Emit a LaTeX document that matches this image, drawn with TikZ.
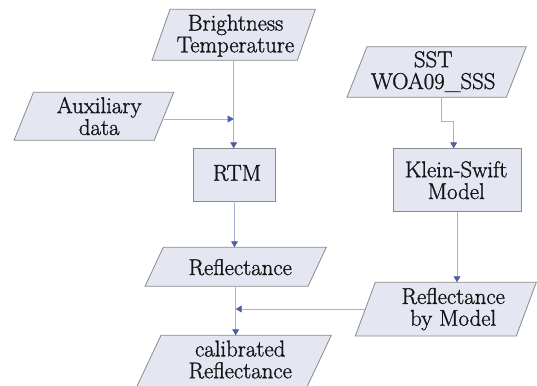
\documentclass[tikz,border=0pt]{standalone}
\usepackage{fontspec}
\newfontfamily\lmfont{Latin Modern Roman}[FakeBold=1.2]
\usetikzlibrary{arrows.meta}
\definecolor{boxfill}{HTML}{E4E6F2}
\definecolor{boxline}{HTML}{8A8A8A}
\definecolor{conline}{HTML}{A8B2D6}
\definecolor{arrowc}{HTML}{4C5FA6}
\definecolor{txt}{HTML}{151515}
\tikzset{
  shapebox/.style={inner sep=0pt, outer sep=0pt},
  boxstyle/.style={fill=boxfill, draw=boxline, line width=0.8pt},
  lbl/.style={inner sep=0pt, outer sep=0pt, anchor=north, align=center, text=txt,
              font=\lmfont\fontsize{22.8}{21.8}\selectfont},
  conn/.style={draw=conline, line width=0.8pt,
               -{Triangle[length=6pt,width=6.8pt,color=arrowc]}}
}
\begin{document}
\begin{tikzpicture}[x=1pt,y=-1pt]
\useasboundingbox (0,0) rectangle (537,385);
\fill[white] (0,0) rectangle (537,385);
\clip (0,0) rectangle (537,385);

% Brightness Temperature
\node[shapebox, minimum width=163.3pt, minimum height=51pt] (bt) at (233.7,34.8) {};
\path[boxstyle] ([xshift=18pt]bt.north west) -- (bt.north east) -- ([xshift=-18pt]bt.south east) -- (bt.south west) -- cycle;
% Auxiliary data
\node[shapebox, minimum width=159.7pt, minimum height=48pt] (aux) at (93.85,116.3) {};
\path[boxstyle] ([xshift=19.5pt]aux.north west) -- (aux.north east) -- ([xshift=-19.5pt]aux.south east) -- (aux.south west) -- cycle;
% RTM
\node[shapebox, boxstyle, minimum width=81.6pt, minimum height=52.7pt] (rtm) at (234.5,174.65) {};
% SST
\node[shapebox, minimum width=179.3pt, minimum height=50.6pt] (sst) at (436.65,72) {};
\path[boxstyle] ([xshift=20pt]sst.north west) -- (sst.north east) -- ([xshift=-20pt]sst.south east) -- (sst.south west) -- cycle;
% Klein-Swift
\node[shapebox, boxstyle, minimum width=128pt, minimum height=63.4pt] (ks) at (457,180) {};
% Reflectance
\node[shapebox, minimum width=181.3pt, minimum height=39pt] (refl) at (235.65,266.8) {};
\path[boxstyle] ([xshift=18.3pt]refl.north west) -- (refl.north east) -- ([xshift=-18.3pt]refl.south east) -- (refl.south west) -- cycle;
% Reflectance by Model
\node[shapebox, minimum width=181pt, minimum height=53.7pt] (rbm) at (445.8,309.15) {};
\path[boxstyle] ([xshift=20pt]rbm.north west) -- (rbm.north east) -- ([xshift=-20pt]rbm.south east) -- (rbm.south west) -- cycle;
% calibrated Reflectance
\node[shapebox, minimum width=195.3pt, minimum height=53pt] (cal) at (233.65,361.8) {};
\path[boxstyle] ([xshift=25pt]cal.north west) -- (cal.north east) -- ([xshift=-25pt]cal.south east) -- (cal.south west) -- cycle;

% texts
\node[lbl] (btT) at (235.5,14.7) {Brightness\\Temperature};
\node[lbl] (auxT) at (99.2,97) {Auxiliary\\data};
\node[lbl] (rtmT) at (237,165) {RTM};
\node[lbl] (sstT) at (433.2,51.2) {SST\\WOA09\_SSS};
\node[lbl] (ksT) at (456.2,161.2) {Klein-Swift\\Model};
\node[lbl] (reflT) at (240.2,259) {Reflectance};
\node[lbl] (rbmT) at (453.2,287.9) {Reflectance\\by Model};
\node[lbl] (calT) at (240.2,340.6) {calibrated\\Reflectance};

% connector end points on slanted edges
\coordinate (auxout) at (163.5,119);
\coordinate (rbmin) at (365.4,309);

% connectors
\draw[conn] (bt.south) -- (bt.south |- rtm.north);
\draw[conn] (auxout) -- (auxout -| bt.south);
\draw[conn] ([xshift=4.6pt]sst.south) -- ++(0,24.4) -| ([xshift=-3.3pt]ks.north);
\draw[conn] (rtm.south) -- (rtm.south |- refl.north);
\draw[conn] (ks.south) -- (ks.south |- rbm.north);
\draw[conn] (refl.south) -- (refl.south |- cal.north);
\draw[conn] (rbmin) -- (rbmin -| refl.south);
\end{tikzpicture}
\end{document}
